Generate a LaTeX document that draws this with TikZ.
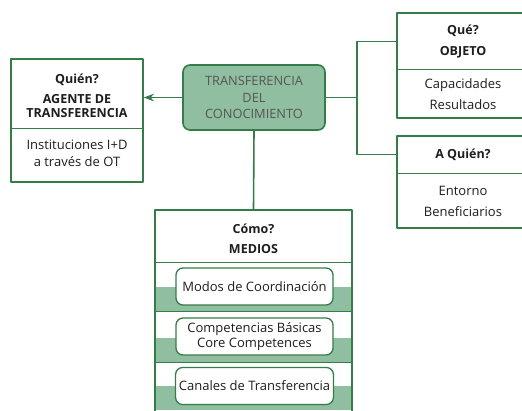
\documentclass[tikz,border=0pt]{standalone}
\usepackage{fontspec}
\setmainfont{Open Sans}
\usetikzlibrary{arrows.meta}
\definecolor{verde}{RGB}{52,125,72}
\definecolor{verdeclaro}{RGB}{143,190,160}
\definecolor{texto}{RGB}{30,30,30}
\tikzset{
  caja/.style={draw=verde, line width=1.6pt, fill=white},
  centro/.style={draw=verde, line width=1.6pt, fill=verdeclaro, rounded corners=7pt, text=texto!75, align=center, font=\fontsize{12.8}{16.5}\selectfont},
  sub/.style={draw=verde, line width=1.3pt, fill=white, rounded corners=7pt},
  titulo/.style={font=\bfseries\fontsize{12.5}{20.5}\selectfont, text=texto, align=center},
  cuerpo/.style={font=\fontsize{13}{17}\selectfont, text=texto, align=center},
  raya/.style={verde, line width=1pt},
  enlace/.style={verde, line width=1.6pt},
}
\begin{document}
\begin{tikzpicture}[x=1pt, y=-1pt, >=Stealth, line join=round]
  \useasboundingbox (0,0) rectangle (522,410);
  % centro
  \node[centro, minimum width=142, minimum height=65] (tc) at (254,97.5) {TRANSFERENCIA\\DEL\\CONOCIMIENTO};
  % quien
  \node[caja, minimum width=132, minimum height=123] (agente) at (77,120.5) {};
  \draw[raya] (11,128) -- (143,128);
  \node[titulo] (quien) at (77,96) {Quién?\\AGENTE DE\\[-6.5pt]TRANSFERENCIA};
  \node[cuerpo] (inst) at (77,153.5) {Instituciones I+D\\a través de OT};
  % que
  \node[caja, minimum width=132, minimum height=105] (objeto) at (463,65.5) {};
  \draw[raya] (397,69) -- (529,69);
  \node[titulo] (que) at (463,41.5) {Qué?\\OBJETO};
  \node[cuerpo, font=\fontsize{13}{21}\selectfont] (capac) at (463,94) {Capacidades\\Resultados};
  % a quien
  \node[caja, minimum width=132, minimum height=92] (aquien) at (463,182) {};
  \draw[raya] (397,173) -- (529,173);
  \node[titulo] (aq) at (463,154.5) {A Quién?};
  \node[cuerpo, font=\fontsize{13}{21}\selectfont] (ent) at (463,201) {Entorno\\Beneficiarios};
  % como
  \node[caja, minimum width=197, minimum height=210, anchor=north] (medios) at (253.5,209) {};
  \foreach \y in {287,338,386}
    \fill[verdeclaro] (156,\y) rectangle (351,{\y+24});
  \foreach \y in {262,311,362}
    \draw[raya] (155,\y) -- (352,\y);
  \node[titulo] (como) at (253.5,239) {Cómo?\\MEDIOS};
  \node[sub, minimum width=157, minimum height=37, cuerpo] (modos) at (254.5,286.5) {Modos de Coordinación};
  \node[sub, minimum width=157, minimum height=37, cuerpo, font=\fontsize{13}{15}\selectfont] (compet) at (254.5,336.5) {Competencias Básicas\\Core Competences};
  \node[sub, minimum width=157, minimum height=37, cuerpo] (canales) at (254.5,386) {Canales de Transferencia};
  % conectores
  \coordinate (rama) at (357,97.5);
  \draw[enlace, ->] (tc.west) -- (agente.east |- tc.west);
  \draw[enlace] (tc.south) -- (medios.north);
  \draw[enlace] (tc.east) -- (rama) |- (objeto.west |- que);
  \draw[enlace] (rama) |- (aquien.west |- aq);
\end{tikzpicture}
\end{document}
